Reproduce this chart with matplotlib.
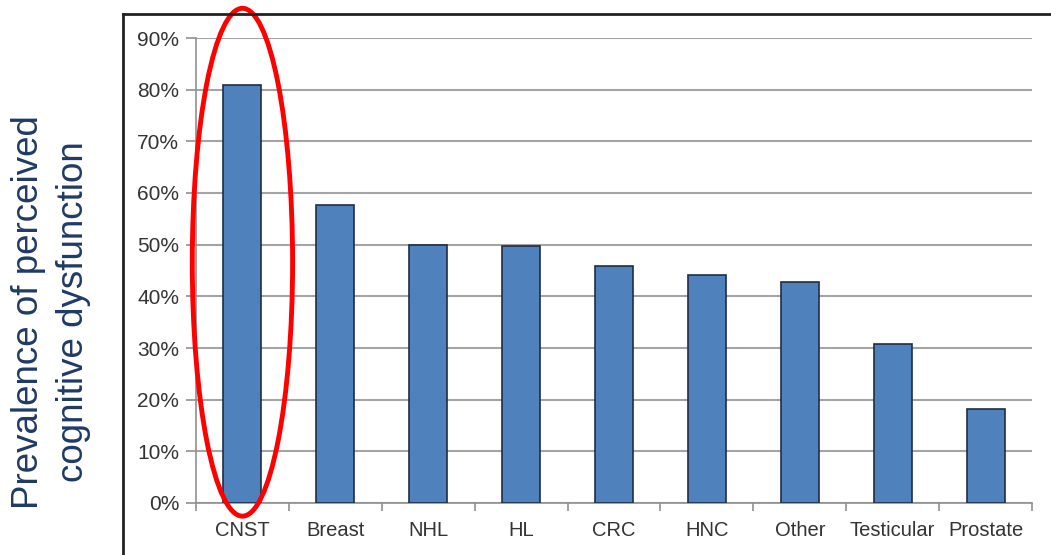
import numpy as np
import matplotlib.pyplot as plt
from matplotlib.patches import Ellipse
from matplotlib.lines import Line2D

# Data
categories = ['CNST', 'Breast', 'NHL', 'HL', 'CRC', 'HNC', 'Other', 'Testicular', 'Prostate']
prevalence = [81.0, 57.6, 50.0, 49.7, 45.9, 44.1, 42.7, 30.8, 18.2]
yticks = [0, 10, 20, 30, 40, 50, 60, 70, 80, 90]

plt.rcParams['font.family'] = ['Liberation Sans', 'DejaVu Sans']

W, H = 1051, 555
fig = plt.figure(figsize=(W / 100, H / 100), dpi=100)
ax = fig.add_axes([196 / W, 1 - 503 / H, (1032 - 196) / W, (503 - 38) / H])

x = np.arange(len(categories))
ax.bar(x, prevalence, width=0.41, color='#4f81bd', edgecolor='#1f2d44', linewidth=1.2, zorder=3)

ax.set_xlim(-0.5, len(categories) - 0.5)
ax.set_ylim(0, 90)
ax.set_yticks(yticks)
ax.set_yticklabels([f'{v}%' for v in yticks], fontsize=15, color='#333333')
ax.yaxis.grid(True, color='#a4a4a4', linewidth=1.5, zorder=0)

# category labels centred, ticks at boundaries
ax.set_xticks(x)
ax.set_xticklabels(categories, fontsize=14.5, color='#333333')
ax.tick_params(axis='x', length=0, pad=13)
ax.set_xticks(np.arange(len(categories) + 1) - 0.5, minor=True)
ax.tick_params(axis='x', which='minor', length=6, width=1.2, color='#909090', direction='out')
ax.tick_params(axis='y', length=7, width=1.2, color='#909090', pad=5)

for side in ['top', 'right']:
    ax.spines[side].set_visible(False)
for side in ['left', 'bottom']:
    ax.spines[side].set_color('#909090')
    ax.spines[side].set_linewidth(1.2)

# red highlight around CNST
ax.add_patch(Ellipse((0, 46.6), width=1.08, height=98.3, fill=False,
                     edgecolor='#ff0000', linewidth=3.5, clip_on=False, zorder=5))

# outer chart frame
fig.add_artist(Line2D([123 / W, 123 / W], [0, 1 - 14 / H], color='#222222', linewidth=2))
fig.add_artist(Line2D([123 / W, 1], [1 - 14 / H, 1 - 14 / H], color='#222222', linewidth=2))

# y label
fig.text(29 / W, 1 - 312 / H, 'Prevalence of perceived', rotation=90, ha='center', va='center',
         fontsize=26.5, color='#1f3a64')
fig.text(74 / W, 1 - 312 / H, 'cognitive dysfunction', rotation=90, ha='center', va='center',
         fontsize=26.5, color='#1f3a64')

plt.savefig('out.png', dpi=100)
